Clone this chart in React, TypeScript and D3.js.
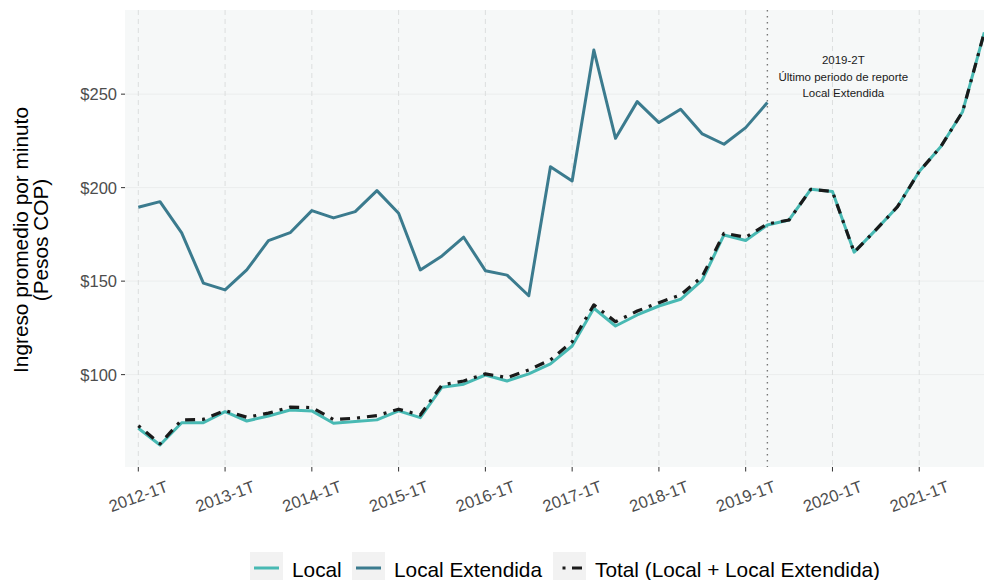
import React from "react";
import * as d3 from "d3";

const quarters = [
  "2012-1T","2012-2T","2012-3T","2012-4T",
  "2013-1T","2013-2T","2013-3T","2013-4T",
  "2014-1T","2014-2T","2014-3T","2014-4T",
  "2015-1T","2015-2T","2015-3T","2015-4T",
  "2016-1T","2016-2T","2016-3T","2016-4T",
  "2017-1T","2017-2T","2017-3T","2017-4T",
  "2018-1T","2018-2T","2018-3T","2018-4T",
  "2019-1T","2019-2T","2019-3T","2019-4T",
  "2020-1T","2020-2T","2020-3T","2020-4T",
  "2021-1T","2021-2T","2021-3T","2021-4T",
];

const localValues = [
  71.3, 62.4, 74.3, 74.3, 80.2, 75.2, 77.9, 81.1, 80.6, 74.0,
  74.9, 75.8, 80.6, 77.0, 93.3, 94.9, 99.8, 96.6, 100.4, 105.7,
  115.3, 135.5, 126.0, 131.9, 136.7, 140.3, 150.6, 174.7, 171.7, 180.0,
  182.7, 199.1, 197.9, 165.5, 177.4, 189.8, 208.6, 222.0, 240.6, 283.0,
];

const extendidaValues = [
  189.5, 192.5, 175.8, 148.9, 145.3, 156.0, 171.7, 175.9, 187.7, 183.8,
  187.2, 198.4, 186.3, 156.0, 163.5, 173.5, 155.6, 153.2, 142.2, 211.2,
  203.6, 273.6, 226.4, 246.0, 234.8, 241.9, 228.7, 223.2, 232.1, 245.5,
];

const totalValues = [
  72.7, 63.0, 75.8, 76.1, 80.8, 77.2, 79.4, 82.6, 82.4, 76.0,
  76.7, 78.1, 81.5, 78.4, 94.5, 96.6, 100.4, 98.4, 102.5, 107.9,
  117.6, 137.3, 128.3, 134.0, 138.5, 142.6, 152.5, 175.6, 173.5, 180.6,
  182.7, 199.1, 197.9, 165.5, 177.4, 189.8, 208.6, 222.0, 240.6, 283.0,
];

const xTickLabels = [
  "2012-1T","2013-1T","2014-1T","2015-1T","2016-1T",
  "2017-1T","2018-1T","2019-1T","2020-1T","2021-1T",
];
const yTickValues = [100, 150, 200, 250];

const lastReportQuarter = "2019-2T";
const annotationLines = ["2019-2T", "Último periodo de reporte", "Local Extendida"];

const legendItems = [
  { key: "local", label: "Local" },
  { key: "ext", label: "Local Extendida" },
  { key: "total", label: "Total (Local + Local Extendida)" },
];

const COLORS = { local: "#48B9B3", ext: "#3B7B8E", total: "#1a1a1a" };
const FONT = "'Liberation Sans', Arial, Helvetica, sans-serif";
const DOTDASH = "3 7 10 7";

export default function App() {
  const W = 984, H = 580;
  const panel = { left: 125, right: 997, top: 10, bottom: 467 };
  const x = d3.scalePoint<string>().domain(quarters).range([138.3, 984.3]);
  const y = d3.scaleLinear().domain([50.6, 295]).range([panel.bottom, panel.top]);

  const line = d3
    .line<[string, number]>()
    .x((d) => x(d[0]) as number)
    .y((d) => y(d[1]));

  const localPts = quarters.map((q, i) => [q, localValues[i]] as [string, number]);
  const extPts = extendidaValues.map((v, i) => [quarters[i], v] as [string, number]);
  const totalPts = quarters.map((q, i) => [q, totalValues[i]] as [string, number]);

  const vx = x(lastReportQuarter) as number;
  const annX = ((x("2020-1T") as number) + (x("2020-2T") as number)) / 2;

  const legendKeyX = [250, 352, 553];

  return (
    <svg
      width={W}
      height={H}
      style={{ position: "absolute", left: 0, top: 0, background: "#ffffff" }}
      fontFamily={FONT}
    >
      <rect x={panel.left} y={panel.top} width={panel.right - panel.left} height={panel.bottom - panel.top} fill="#f6f8f8" />
      {yTickValues.map((v) => (
        <line key={"hg" + v} x1={panel.left} x2={panel.right} y1={y(v)} y2={y(v)} stroke="#ebeded" strokeWidth={1} />
      ))}
      {xTickLabels.map((q) => (
        <line key={"vg" + q} x1={x(q)} x2={x(q)} y1={panel.top} y2={panel.bottom} stroke="#dcdede" strokeWidth={1} strokeDasharray="5 4" />
      ))}
      <line x1={vx} x2={vx} y1={panel.top} y2={panel.bottom} stroke="#777" strokeWidth={1.4} strokeDasharray="1.4 4.6" />

      <path d={line(extPts) || ""} fill="none" stroke={COLORS.ext} strokeWidth={3} strokeLinejoin="round" />
      <path d={line(localPts) || ""} fill="none" stroke={COLORS.local} strokeWidth={3} strokeLinejoin="round" />
      <path d={line(totalPts) || ""} fill="none" stroke={COLORS.total} strokeWidth={3.2} strokeLinejoin="round" strokeDasharray={DOTDASH} />

      {annotationLines.map((t, i) => (
        <text key={"an" + i} x={annX} y={60 + i * 16.7} textAnchor="middle" dominantBaseline="central" fontSize={11.5} fill="#1a1a1a">
          {t}
        </text>
      ))}

      {yTickValues.map((v) => (
        <g key={"yt" + v}>
          <line x1={panel.left - 4} x2={panel.left} y1={y(v)} y2={y(v)} stroke="#333" strokeWidth={1} />
          <text x={panel.left - 8} y={y(v)} textAnchor="end" dominantBaseline="central" fontSize={16.5} fill="#4d4d4d">
            {"$" + v}
          </text>
        </g>
      ))}
      {xTickLabels.map((q) => (
        <g key={"xt" + q}>
          <line x1={x(q)} x2={x(q)} y1={panel.bottom} y2={panel.bottom + 4.5} stroke="#333" strokeWidth={1} />
          <text
            transform={`translate(${x(q)},496) rotate(-20)`}
            textAnchor="middle"
            dominantBaseline="central"
            fontSize={16.5}
            fill="#4d4d4d"
          >
            {q}
          </text>
        </g>
      ))}

      <text transform="translate(28,240) rotate(-90)" textAnchor="middle" fontSize={20.8} fill="#000">
        Ingreso promedio por minuto
      </text>
      <text transform="translate(48,240) rotate(-90)" textAnchor="middle" fontSize={20.8} fill="#000">
        (Pesos COP)
      </text>

      {legendItems.map((it, i) => {
        const kx = legendKeyX[i];
        return (
          <g key={"lg" + it.key}>
            <rect x={kx} y={552} width={33} height={33} fill="#f2f2f2" />
            {it.key === "total" ? (
              <line x1={kx + 9.5} x2={kx + 29.5} y1={568} y2={568} stroke={COLORS.total} strokeWidth={3.2} strokeDasharray="3 6.5 10 6.5" />
            ) : (
              <line x1={kx + 4} x2={kx + 29} y1={568} y2={568} stroke={it.key === "local" ? COLORS.local : COLORS.ext} strokeWidth={3} />
            )}
            <text x={kx + 42} y={576.5} fontSize={20.8} fill="#000">
              {it.label}
            </text>
          </g>
        );
      })}
    </svg>
  );
}
